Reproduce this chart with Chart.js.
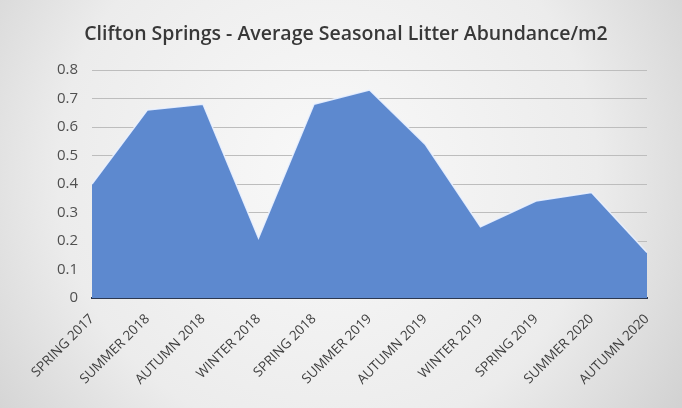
<!DOCTYPE html>
<html>
<head>
<meta charset="utf-8">
<script src="https://cdn.jsdelivr.net/npm/chart.js@4/dist/chart.umd.min.js"></script>
<style>
  html, body { margin: 0; padding: 0; background: #e9e9e9; }
  #wrap { width: 682px; height: 408px; }
</style>
</head>
<body>
<div id="wrap"><canvas id="litterChart" width="682" height="408"></canvas></div>
<script>
var seasons = ["SPRING 2017", "SUMMER 2018", "AUTUMN 2018", "WINTER 2018", "SPRING 2018",
    "SUMMER 2019", "AUTUMN 2019", "WINTER 2019", "SPRING 2019", "SUMMER 2020", "AUTUMN 2020"];
var abundance = [0.40, 0.66, 0.68, 0.21, 0.68, 0.73, 0.54, 0.25, 0.34, 0.37, 0.16];
var yTicks = [0, 0.1, 0.2, 0.3, 0.4, 0.5, 0.6, 0.7, 0.8];

// grey photo-ish background, lighter in the middle
var backdrop = {
    id: 'backdrop',
    beforeDraw: function (chart) {
        var ctx = chart.ctx, w = chart.width, h = chart.height;
        ctx.save();
        var g = ctx.createRadialGradient(w * 0.48, h * 0.42, 40, w * 0.48, h * 0.42, w * 0.62);
        g.addColorStop(0, '#f7f7f7');
        g.addColorStop(0.6, '#ececec');
        g.addColorStop(1, '#d2d2d2');
        ctx.fillStyle = g;
        ctx.fillRect(0, 0, w, h);
        ctx.restore();
    }
};

function makeChart() {
    var ctx = document.getElementById("litterChart").getContext("2d");

    new Chart(ctx, {
        type: 'line',
        data: {
            labels: seasons,
            datasets: [{
                label: "Average abundance",
                data: abundance,
                fill: 'origin',
                backgroundColor: '#5d89cf',
                borderColor: 'rgba(235,242,255,0.9)',
                borderWidth: 1.5,
                pointRadius: 0,
                tension: 0
            }]
        },
        options: {
            responsive: false,
            animation: false,
            layout: { padding: { left: 45, right: 35, top: 0, bottom: 0 } },
            plugins: {
                legend: { display: false },
                tooltip: { enabled: false },
                title: {
                    display: true,
                    text: 'Clifton Springs - Average Seasonal Litter Abundance/m2',
                    color: '#383838',
                    font: { family: 'Open Sans', size: 19.5, weight: '600' },
                    padding: { top: 23, bottom: 23.6 }
                }
            },
            scales: {
                x: {
                    offset: false,
                    grid: { display: false, drawTicks: false },
                    border: { display: true, color: '#2c3850', width: 2 },
                    ticks: {
                        color: '#404040',
                        font: { family: 'Open Sans', size: 13.5 },
                        minRotation: 45,
                        maxRotation: 45,
                        padding: 13,
                        autoSkip: false
                    },
                    afterFit: function (scale) { scale.height = 110; }
                },
                y: {
                    min: 0,
                    max: 0.8,
                    afterBuildTicks: function (scale) {
                        scale.ticks = yTicks.map(function (v) { return { value: v }; });
                    },
                    grid: { color: '#bdbdbd', lineWidth: 1, drawTicks: false },
                    border: { display: false },
                    ticks: {
                        color: '#505050',
                        font: { family: 'Open Sans', size: 15 },
                        padding: 14,
                        callback: function (v) { return v === 0 ? '0' : v.toFixed(1); }
                    },
                    afterFit: function (scale) { scale.width = 47; }
                }
            }
        },
        plugins: [backdrop]
    });
}

makeChart();
</script>
</body>
</html>
